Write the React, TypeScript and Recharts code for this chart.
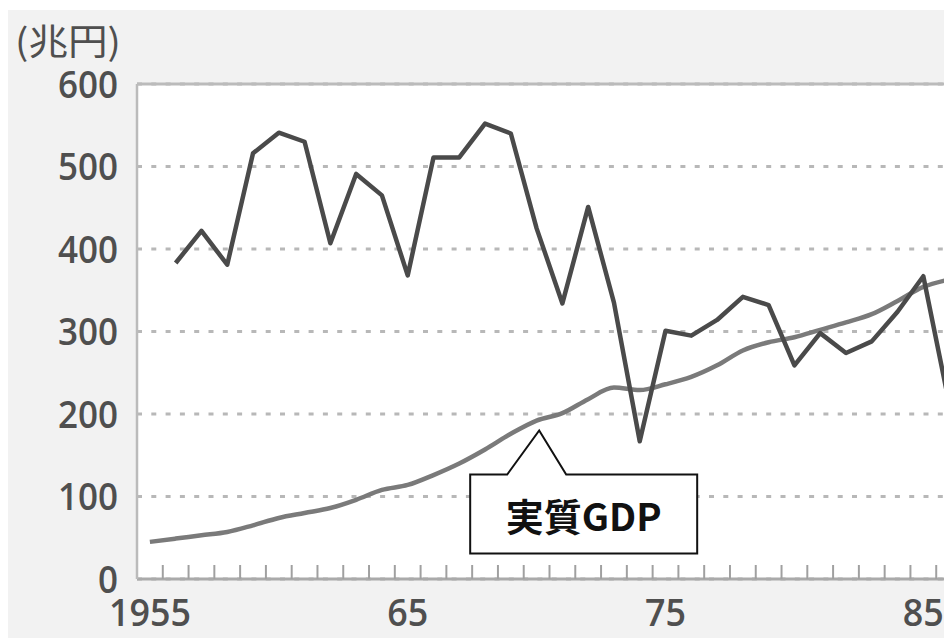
import React from "react";
import {
  LineChart,
  Line,
  XAxis,
  YAxis,
  CartesianGrid,
  ReferenceLine,
  ReferenceDot,
} from "recharts";

// years on the x axis
const years = [
  1955, 1956, 1957, 1958, 1959, 1960, 1961, 1962, 1963, 1964, 1965, 1966,
  1967, 1968, 1969, 1970, 1971, 1972, 1973, 1974, 1975, 1976, 1977, 1978,
  1979, 1980, 1981, 1982, 1983, 1984, 1985, 1986,
];

// 実質GDP (兆円)
const realGdp = [
  45, 49, 53, 57, 65, 74, 80, 86, 96, 108, 114, 126, 140, 157, 176, 192, 201,
  218, 232, 229, 236, 245, 259, 277, 287, 293, 302, 311, 321, 337, 354, 363,
];

// the dark jagged series (starts in 1956)
const darkSeries = [
  null, 383, 422, 381, 516, 541, 530, 407, 491, 465, 368, 511, 511, 552, 540,
  425, 334, 451, 335, 167, 301, 295, 314, 342, 332, 259, 298, 274, 288, 324,
  367, 213,
];

const yTicks = [0, 100, 200, 300, 400, 500, 600];
const xLabelYears = [1955, 1965, 1975, 1985];
const xLabelText = ["1955", "65", "75", "85"];
const unitText = "(兆円)";
const calloutText = "実質GDP";
// where the callout pointer touches (data units)
const calloutYear = 1970.1;
const calloutValue = 180;

const data = years.map((year, i) => ({
  year,
  gdp: realGdp[i],
  dark: darkSeries[i],
}));

// tick marks sit on the year boundaries, labels in the middle of a year
const xTicks = [...years.slice(0, -1).map((y) => y + 0.5), ...xLabelYears];

const textColor = "#4f4f4f";
const numFont = "'Open Sans', sans-serif";
const digitWidth = 20.5; // the original digits are narrow

function XTick(props: any) {
  const { x, y, payload } = props;
  const idx = xLabelYears.indexOf(payload.value);
  if (idx >= 0) {
    const label = xLabelText[idx];
    return (
      <text
        x={x}
        y={y + 47}
        textAnchor="middle"
        fontSize={38}
        fontWeight={600}
        fontFamily={numFont}
        fill={textColor}
        textLength={label.length * digitWidth}
        lengthAdjust="spacingAndGlyphs"
      >
        {label}
      </text>
    );
  }
  return (
    <line x1={x} y1={y} x2={x} y2={y - 14} stroke="#a0a0a0" strokeWidth={2} />
  );
}

function YTick(props: any) {
  const { x, y, payload } = props;
  const label = String(payload.value);
  return (
    <text
      x={x}
      y={y + 13.5}
      textAnchor="end"
      fontSize={38}
      fontWeight={600}
      fontFamily={numFont}
      fill={textColor}
      textLength={label.length * 20}
      lengthAdjust="spacingAndGlyphs"
    >
      {label}
    </text>
  );
}

function Callout(props: any) {
  const { cx, cy } = props;
  const top = cy + 44;
  const bottom = cy + 123;
  const left = cx - 69;
  const right = cx + 158;
  const d = [
    `M${left},${top}`,
    `L${cx - 32},${top}`,
    `L${cx},${cy}`,
    `L${cx + 27},${top}`,
    `L${right},${top}`,
    `L${right},${bottom}`,
    `L${left},${bottom}`,
    "Z",
  ].join(" ");
  return (
    <g>
      <path d={d} fill="#fff" stroke="#111" strokeWidth={2} />
      <text
        x={(left + right) / 2}
        y={(top + bottom) / 2}
        textAnchor="middle"
        dominantBaseline="central"
        fontSize={38}
        fontWeight="bold"
        fontFamily="'Noto Sans CJK JP', sans-serif"
        fill="#111"
        textLength={156}
        lengthAdjust="spacingAndGlyphs"
      >
        {calloutText}
      </text>
    </g>
  );
}

export default function App() {
  return (
    <div
      style={{
        position: "absolute",
        left: 0,
        top: 0,
        width: 944,
        height: 638,
        overflow: "hidden",
        background: "#fff",
      }}
    >
      <div
        style={{
          position: "absolute",
          left: 8,
          top: 10,
          width: 936,
          height: 628,
          background: "#f2f2f2",
        }}
      />
      <div style={{ position: "absolute", left: 0, top: 0 }}>
        <LineChart
          width={962}
          height={638}
          data={data}
          margin={{ top: 84, right: 0, bottom: 0, left: 0 }}
        >
          <CartesianGrid
            vertical={false}
            stroke="#b8b8b8"
            strokeWidth={3}
            strokeDasharray="5 9.3"
            fill="#fff"
          />
          <XAxis
            dataKey="year"
            type="number"
            domain={[1954.5, 1986.5]}
            allowDataOverflow
            ticks={xTicks}
            interval={0}
            tick={<XTick />}
            tickLine={false}
            tickSize={0}
            tickMargin={0}
            height={59}
            axisLine={{ stroke: "#aaa", strokeWidth: 3 }}
          />
          <YAxis
            type="number"
            domain={[0, 600]}
            ticks={yTicks}
            interval={0}
            width={137}
            tick={<YTick />}
            tickLine={false}
            tickSize={0}
            tickMargin={19}
            axisLine={{ stroke: "#bbb", strokeWidth: 2.5 }}
          />
          <ReferenceLine y={600} stroke="#bbb" strokeWidth={3} />
          <Line
            type="monotone"
            dataKey="gdp"
            stroke="#7a7a7a"
            strokeWidth={4.5}
            strokeLinejoin="round"
            dot={false}
            isAnimationActive={false}
          />
          <Line
            type="linear"
            dataKey="dark"
            stroke="#4a4a4a"
            strokeWidth={4.5}
            strokeLinejoin="round"
            dot={false}
            isAnimationActive={false}
          />
          <ReferenceDot
            x={calloutYear}
            y={calloutValue}
            r={0}
            ifOverflow="visible"
            shape={(p: any) => <Callout {...p} />}
          />
        </LineChart>
      </div>
      <svg
        width={944}
        height={80}
        style={{ position: "absolute", left: 0, top: 0, pointerEvents: "none" }}
      >
        <text
          x={15}
          y={55}
          fontSize={36}
          textLength={106}
          lengthAdjust="spacingAndGlyphs"
          fontFamily="'Noto Sans CJK JP', sans-serif"
          fill={textColor}
        >
          {unitText}
        </text>
      </svg>
    </div>
  );
}
